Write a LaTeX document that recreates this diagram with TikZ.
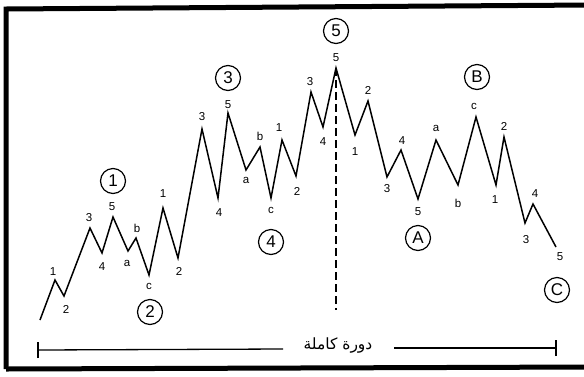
\documentclass[tikz,border=0pt]{standalone}
\usepackage{fontspec}
\setmainfont{Liberation Sans}
\newfontfamily\arabicfont[Script=Arabic]{DejaVu Sans}
\TeXXeTstate=1
\begin{document}
\begin{tikzpicture}[x=1pt,y=-1pt,
  wave/.style={line width=1.5pt,line join=miter},
  lbl/.style={font=\fontsize{11.5}{11.5}\selectfont,inner sep=0pt},
  circ/.style={circle,draw,line width=1.2pt,minimum size=25pt,inner sep=0pt,font=\fontsize{17}{17}\selectfont},
  frame/.style={line width=5pt},
  bar/.style={line width=1.3pt}]
\useasboundingbox (0,0) rectangle (584,376);
% frame
\draw[frame] (6,369) -- (6,9) -- (590,5);
\draw[frame] (6,369) -- (590,367);
% wave points
\foreach \n/\x/\y in {0/40/320,1/55/280,2/64/296,3/90/228,4/102/253,5/113/217,6/128/251,7/136/238,8/149/275,9/163/208,10/178/258,11/202/129,12/218/198,13/228/113,14/246/170,15/260/147,16/271/198,17/282/140,18/296/176,19/311/92,20/323/127,21/336/68,22/355/135,23/368/101,24/387/177,25/401/150,26/418/199,27/436/140,28/458/185,29/476/117,30/496/185,31/504/137,32/525/223,33/533/204,34/556/247}
  \coordinate (p\n) at (\x,\y);
\draw[wave] (p0) \foreach \n in {1,...,34}{ -- (p\n)};
% dashed line
\coordinate (dend) at (336,310);
\draw[line width=1.3pt,dash pattern=on 8pt off 4pt] (p21) -- (dend);
% labels
\foreach \n/\t/\x/\y in {a1/1/53/272,a2/2/66/309,a3/3/89/218,a4/4/102/267,a5/5/112/207,aa/a/127/263,ab/b/137/228,ac/c/149/286,b1/1/163/194,b2/2/179/271,c3/3/202/117,c4/4/219/213,c5/5/228/105,ca/a/246/180,cb/b/260/136,cc/c/271/210,d1/1/279/128,d2/2/297/191,d3/3/310/82,d4/4/323/142,d5/5/336/58,e1/1/355/152,e2/2/368/90,e3/3/387/189,e4/4/402/141,e5/5/418/212,fa/a/436/128,fb/b/458/203,fc/c/474/106,g1/1/495/200,g2/2/504/126,g3/3/526/240,g4/4/535/194,g5/5/560/257}
  \node[lbl] (l\n) at (\x,\y) {\t};
% circled labels
\node[circ] (w1) at (113,181) {1};
\node[circ] (w2) at (150,312) {2};
\node[circ] (w3) at (228,78) {3};
\node[circ] (w4) at (271,242) {4};
\node[circ] (w5) at (336,31) {5};
\node[circ] (wA) at (418,238) {A};
\node[circ] (wB) at (477,77) {B};
\node[circ] (wC) at (557,290) {C};
% bracket
\node[inner sep=0pt,font=\arabicfont\fontsize{15.5}{15.5}\selectfont] (cyc) at (338,345) {\beginR دورة كاملة\endR};
\coordinate (bl) at (38,350);
\coordinate (br) at (556,348);
\coordinate (gl) at (283,349);
\coordinate (gr) at (394,348);
\draw[bar] (bl) -- (gl);
\draw[bar] (gr) -- (br);
\draw[line width=1.7pt] ([yshift=-8pt]bl) -- ([yshift=8pt]bl);
\draw[line width=1.7pt] ([yshift=-8pt]br) -- ([yshift=8pt]br);
\end{tikzpicture}
\end{document}
